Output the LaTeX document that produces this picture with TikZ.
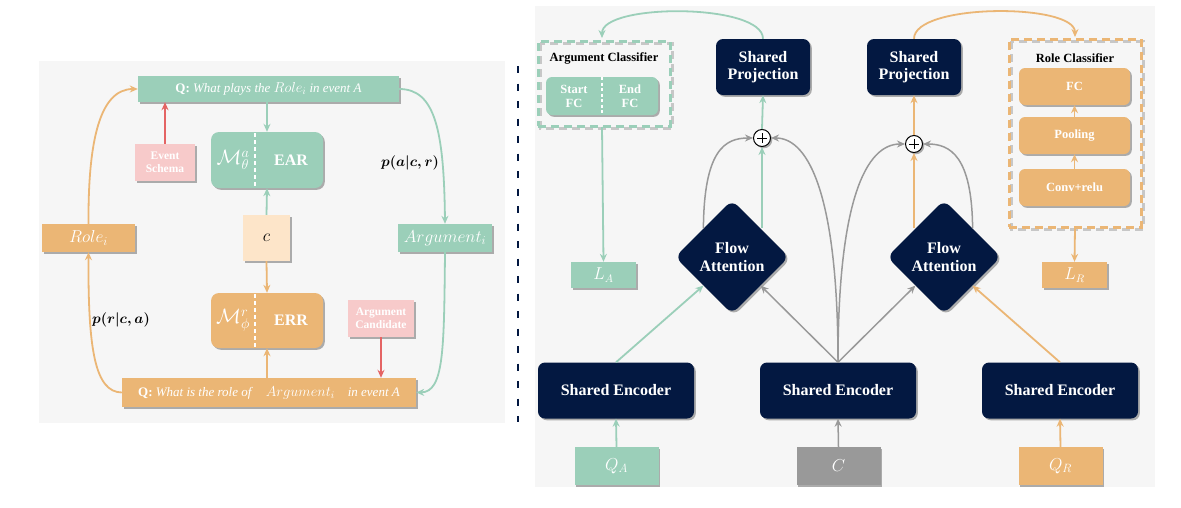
\documentclass[tikz,border=0pt]{standalone}
\usepackage{fontspec}
\setmainfont{Liberation Serif}
\usetikzlibrary{shapes.geometric,shadows,arrows.meta,calc}
\definecolor{mygreen}{RGB}{155,207,185}
\definecolor{myorange}{RGB}{235,182,117}
\definecolor{mypink}{RGB}{247,202,202}
\definecolor{myred}{RGB}{228,100,100}
\definecolor{mypeach}{RGB}{253,229,201}
\definecolor{navy}{RGB}{3,24,65}
\definecolor{mygray}{RGB}{153,153,153}
\definecolor{panel}{RGB}{246,246,246}
\tikzset{
  sh/.style={drop shadow={shadow xshift=1.8pt,shadow yshift=-1.8pt,fill=black,opacity=0.3}},
  box/.style={rectangle, inner sep=0pt, text=white, align=center, sh},
  navybox/.style={box, fill=navy, rounded corners=7pt, font=\bfseries\fontsize{16}{17}\selectfont},
  tip/.style={-{Stealth[length=8pt,width=7pt]}},
  ga/.style={draw=mygreen, line width=1.8pt, tip},
  oa/.style={draw=myorange, line width=1.8pt, tip},
  gra/.style={draw=mygray, line width=1.5pt, tip},
  ra/.style={draw=myred, line width=1.8pt, tip},
  smallbold/.style={font=\bfseries\fontsize{11.5}{12.5}\selectfont},
  clsbox/.style={rectangle, inner sep=0pt, line width=3pt, dash pattern=on 8pt off 5pt},
  plusc/.style={circle, draw=black, fill=white, minimum size=17pt, inner sep=0pt, line width=1pt, sh},
  fadiamond/.style={diamond, aspect=1, minimum width=114pt, minimum height=114pt, inner sep=0pt,
     rounded corners=8pt, fill=navy, text=white, align=center, sh, font=\bfseries\fontsize{16}{18}\selectfont},
  plabel/.style={font=\boldmath\fontsize{15}{15}\selectfont},
  mlabel/.style={text=white, inner sep=0pt, font=\fontsize{21}{21}\selectfont},
  tlabel/.style={text=white, inner sep=0pt, font=\bfseries\fontsize{16}{16}\selectfont},
}
\begin{document}
\begin{tikzpicture}[x=1pt,y=-1pt]
\useasboundingbox (0,0) rectangle (1181,507);
% panels
\fill[panel] (39,61) rectangle (505,423);
\fill[panel] (535,6) rectangle (1155,487);
\draw[navy, line width=2.5pt, dash pattern=on 7pt off 10.5pt] (518,66) -- (518,422);

%%%%%%%%%%%%%%%% LEFT PANEL
\node[box, fill=mygreen, minimum width=261pt, minimum height=26pt, font=\fontsize{13}{14}\selectfont]
  (q1) at (268.5,89) {{\bfseries Q:} \textit{What plays the}\ {\fontsize{14}{14}\selectfont$Role_i$} \textit{in event A}};
\node[box, fill=mypink, minimum width=60pt, minimum height=37pt, smallbold] (es) at (165,162.5) {Event\\Schema};
\node[box, fill=mygreen, minimum width=112pt, minimum height=56pt, rounded corners=8pt] (ear) at (267,160) {};
\node[mlabel] (earm) at (233,160) {$\mathcal{M}^a_\theta$};
\node[tlabel] (eart) at (291,160) {EAR};
\draw[white, line width=1.5pt, dash pattern=on 4pt off 3pt] (255,133) -- (255,187);
\node[box, fill=mypeach, minimum width=47pt, minimum height=46pt, text=black, font=\fontsize{17}{17}\selectfont] (c) at (266.5,238) {$c$};
\node[box, fill=myorange, minimum width=112pt, minimum height=55pt, rounded corners=8pt] (err) at (267,320.5) {};
\node[mlabel] (errm) at (233,320.5) {$\mathcal{M}^r_\phi$};
\node[tlabel] (errt) at (291,320.5) {ERR};
\draw[white, line width=1.5pt, dash pattern=on 4pt off 3pt] (255,294) -- (255,347);
\node[box, fill=myorange, minimum width=294pt, minimum height=29pt, font=\fontsize{13}{14}\selectfont]
  (q2) at (269,392.5) {{\bfseries Q:} \textit{What is the role of}\quad{\fontsize{14}{14}\selectfont$Argument_i$}\quad\textit{in event A}};
\node[box, fill=mypink, minimum width=66pt, minimum height=37pt, smallbold] (acand) at (381,318.5) {Argument\\Candidate};
\node[box, fill=myorange, minimum width=93pt, minimum height=28pt, font=\fontsize{17}{17}\selectfont] (role) at (88.5,238) {$Role_i$};
\node[box, fill=mygreen, minimum width=94pt, minimum height=28pt, font=\fontsize{17}{17}\selectfont] (arg) at (445,238) {$Argument_i$};
\node[plabel] (pa) at (410,163) {$p(a\vert c,r)$};
\node[plabel] (pr) at (121,320) {$p(r\vert c,a)$};

\draw[ga] (ear.north |- q1.south) -- (ear.north);
\draw[ga] (c.north) -- (ear.south);
\draw[oa] (c.south) -- (err.north);
\draw[oa] (err.south |- q2.north) -- (err.south);
\draw[ra] (es.north) -- (es.north |- q1.south);
\draw[ra] (acand.south) -- (acand.south |- q2.north);
\draw[oa] (role.north) .. controls (88,140) and (100,89) .. (q1.west);
\draw[oa] (q2.west) .. controls (95,392) and (88,350) .. (role.south);
\draw[ga] (q1.east) .. controls (435,89) and (444,130) .. (arg.north);
\draw[ga] (arg.south) .. controls (444,350) and (444,392) .. (q2.east);

%%%%%%%%%%%%%%%% RIGHT PANEL
\node[navybox, minimum width=94pt, minimum height=56pt] (sp1) at (763,67) {Shared\\Projection};
\node[navybox, minimum width=94pt, minimum height=56pt] (sp2) at (914,67) {Shared\\Projection};
\node[plusc] (p1) at (762,138) {};
\draw[line width=1pt] ($(p1)+(-5,0)$) -- ($(p1)+(5,0)$) ($(p1)+(0,-5)$) -- ($(p1)+(0,5)$);
\node[plusc] (p2) at (914,144) {};
\draw[line width=1pt] ($(p2)+(-5,0)$) -- ($(p2)+(5,0)$) ($(p2)+(0,-5)$) -- ($(p2)+(0,5)$);
\node[fadiamond] (fa1) at (732,257) {Flow\\Attention};
\node[fadiamond] (fa2) at (944,257) {Flow\\Attention};
\node[navybox, minimum width=156pt, minimum height=56pt] (se1) at (616,390.5) {Shared Encoder};
\node[navybox, minimum width=156pt, minimum height=56pt] (se2) at (838,390.5) {Shared Encoder};
\node[navybox, minimum width=156pt, minimum height=56pt] (se3) at (1060,390.5) {Shared Encoder};
\node[box, fill=mygreen, minimum width=84pt, minimum height=38pt, font=\fontsize{17}{17}\selectfont] (qa) at (616.5,466) {$Q_A$};
\node[box, fill=mygray, minimum width=84pt, minimum height=38pt, font=\fontsize{17}{17}\selectfont] (cc) at (838.5,466) {$C$};
\node[box, fill=myorange, minimum width=84pt, minimum height=38pt, font=\fontsize{17}{17}\selectfont] (qr) at (1060.5,466) {$Q_R$};

% argument classifier
\draw[mygray!55, clsbox] (540,43) rectangle (672,128);
\node[clsbox, draw=mygreen, minimum width=132pt, minimum height=85pt] (ac) at (604,83.5) {};
\node[font=\bfseries\fontsize{12.5}{13}\selectfont] (act) at (604,58) {Argument Classifier};
\node[box, fill=mygreen, minimum width=112pt, minimum height=38pt, rounded corners=6pt] (afc) at (602,96) {};
\node[text=white, align=center, font=\bfseries\fontsize{12.5}{14}\selectfont] (sfc) at (574,96) {Start\\FC};
\node[text=white, align=center, font=\bfseries\fontsize{12.5}{14}\selectfont] (efc) at (630,96) {End\\FC};
\draw[white, line width=1.2pt, dash pattern=on 3pt off 2.5pt] (602,77) -- (602,115);

% role classifier
\draw[mygray!55, clsbox] (1011,41) rectangle (1143,229);
\node[clsbox, draw=myorange, minimum width=132pt, minimum height=188pt] (rc) at (1075,133) {};
\node[font=\bfseries\fontsize{12.5}{13}\selectfont] (rct) at (1075,58) {Role Classifier};
\node[box, fill=myorange, minimum width=111pt, minimum height=37pt, rounded corners=6pt, font=\bfseries\fontsize{12.5}{13}\selectfont] (fc) at (1074.5,86.5) {FC};
\node[box, fill=myorange, minimum width=111pt, minimum height=37pt, rounded corners=6pt, font=\bfseries\fontsize{12.5}{13}\selectfont] (pool) at (1074.5,135.5) {Pooling};
\node[box, fill=myorange, minimum width=111pt, minimum height=37pt, rounded corners=6pt, font=\bfseries\fontsize{12.5}{13}\selectfont] (conv) at (1074.5,187.5) {Conv+relu};

\node[box, fill=mygreen, minimum width=65pt, minimum height=26pt, font=\fontsize{16}{16}\selectfont] (la) at (603.5,275) {$L_A$};
\node[box, fill=myorange, minimum width=65pt, minimum height=26pt, font=\fontsize{16}{16}\selectfont] (lr) at (1074.5,275) {$L_R$};

% coordinates on diamond edges
\coordinate (f1nw) at ($(fa1.north)!0.5!(fa1.west)$);
\coordinate (f1ne) at ($(fa1.north)!0.5!(fa1.east)$);
\coordinate (f1sw) at ($(fa1.south)!0.5!(fa1.west)$);
\coordinate (f1se) at ($(fa1.south)!0.5!(fa1.east)$);
\coordinate (f2nw) at ($(fa2.north)!0.5!(fa2.west)$);
\coordinate (f2ne) at ($(fa2.north)!0.5!(fa2.east)$);
\coordinate (f2sw) at ($(fa2.south)!0.5!(fa2.west)$);
\coordinate (f2se) at ($(fa2.south)!0.5!(fa2.east)$);

% connectors
\draw[ga] (qa.north) -- (se1.south);
\draw[gra] (cc.north) -- (se2.south);
\draw[oa] (qr.north) -- (se3.south);
\draw[ga] (se1.north) -- (f1sw);
\draw[gra] (se2.north) -- (f1se);
\draw[gra] (se2.north) -- (f2sw);
\draw[oa] (se3.north) -- (f2se);
\draw[gra] (f1nw) .. controls (704,150) and (725,138) .. (p1.west);
\draw[gra] (se2.north) .. controls (838,200) and (810,138) .. (p1.east);
\draw[gra] (se2.north) .. controls (838,200) and (866,144) .. (p2.west);
\draw[gra] (f2ne) .. controls (972,156) and (950,144) .. (p2.east);
\draw[ga] (p1.south |- f1ne) -- (p1.south);
\draw[oa] (p2.south |- f2nw) -- (p2.south);
\draw[ga] (p1.north) -- (sp1.south);
\draw[oa] (p2.north) -- (sp2.south);
\draw[ga] (sp1.north) .. controls (763,3) and (602,3) .. (602,38);
\draw[oa] (sp2.north) .. controls (914,3) and (1075,3) .. (1075,37);
\draw[ga] (602,127) -- (la.north);
\draw[oa] (rc.south) -- (lr.north);
\draw[oa] (conv.north) -- (pool.south);
\draw[oa] (pool.north) -- (fc.south);
\end{tikzpicture}
\end{document}
